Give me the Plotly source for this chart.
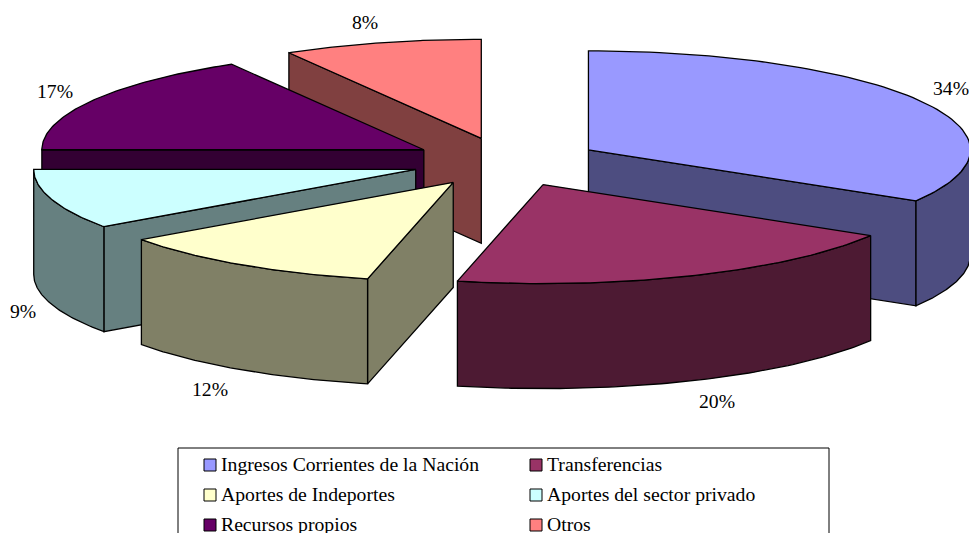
import numpy as np
import plotly.graph_objects as go

categories = ["Ingresos Corrientes de la Nación", "Transferencias", "Aportes de Indeportes",
              "Aportes del sector privado", "Recursos propios", "Otros"]
shares = [33.6, 20.0, 11.6, 9.8, 16.6, 8.4]
pct_labels = ["34%", "20%", "12%", "9%", "17%", "8%"]
colors = ["#9999FF", "#993366", "#FFFFCC", "#CCFFFF", "#660066", "#FF8080"]
dark_colors = ["#4D4D80", "#4D1A33", "#808066", "#668080", "#330033", "#804040"]

W, H = 969, 533
cx, cy = 506, 162
rx, ry = 382, 99
depth = 105
explode = 0.248
font = "Liberation Serif"
font_size = 19.7

label_x = [951, 717, 210, 23, 55, 365]
label_y = [90, 403, 391, 313, 93, 24]

fig = go.Figure()


def add_poly(xs, ys, color):
    fig.add_trace(go.Scatter(x=xs, y=ys, mode="lines", fill="toself", fillcolor=color,
                             line=dict(color="black", width=1.3), hoverinfo="skip", showlegend=False))


def arc(ax, ay, a0, a1):
    t = np.radians(np.linspace(a0, a1, 80))
    return ax + rx * np.sin(t), ay - ry * np.cos(t)


def add_cut_face(ax, ay, angle, color):
    x1, y1 = arc(ax, ay, angle, angle)
    add_poly([ax, x1[0], x1[0], ax, ax], [ay, y1[0], y1[0] + depth, ay + depth, ay], color)


edges = np.cumsum([0] + shares) / sum(shares) * 360

# back to front
for i in [5, 4, 3, 2, 0, 1]:
    a0, a1 = edges[i], edges[i + 1]
    mid = np.radians((a0 + a1) / 2)
    ax = cx + explode * rx * np.sin(mid)
    ay = cy - explode * ry * np.cos(mid)

    # cut faces, only the ones turned to the viewer
    if 180 < a0 < 360:
        add_cut_face(ax, ay, a0, dark_colors[i])
    if 0 < a1 < 180:
        add_cut_face(ax, ay, a1, dark_colors[i])

    # rim
    lo, hi = max(a0, 90), min(a1, 270)
    if lo < hi:
        xr, yr = arc(ax, ay, lo, hi)
        add_poly(np.r_[xr, xr[::-1], xr[0]], np.r_[yr, yr[::-1] + depth, yr[0]], dark_colors[i])

    # top
    xt, yt = arc(ax, ay, a0, a1)
    add_poly(np.r_[ax, xt, ax], np.r_[ay, yt, ay], colors[i])

fig.add_trace(go.Scatter(x=label_x, y=label_y, mode="text", text=pct_labels, textposition="middle center",
                         textfont=dict(family=font, size=font_size, color="black"), hoverinfo="skip",
                         showlegend=False, cliponaxis=False))

# legend box runs off the bottom of the page like in the original
fig.add_shape(type="rect", x0=178, x1=829, y0=448, y1=560, line=dict(color="black", width=1), fillcolor="white",
              layer="below")
leg_x = [210, 536, 210, 536, 210, 536]
leg_y = [465, 465, 495, 495, 525, 525]
for i in range(6):
    fig.add_trace(go.Scatter(x=[leg_x[i]], y=[leg_y[i]], mode="markers",
                             marker=dict(symbol="square", size=12, color=colors[i], line=dict(color="black", width=1)),
                             hoverinfo="skip", showlegend=False))
    fig.add_trace(go.Scatter(x=[leg_x[i] + 11], y=[leg_y[i] + 1], mode="text", text=[categories[i]],
                             textposition="middle right",
                             textfont=dict(family=font, size=font_size, color="black"),
                             hoverinfo="skip", showlegend=False))

fig.update_xaxes(range=[0, W], visible=False)
fig.update_yaxes(range=[H, 0], visible=False)
fig.update_layout(width=W, height=H, margin=dict(l=0, r=0, t=0, b=0), paper_bgcolor="white", plot_bgcolor="white")

# page margin would push the figure off the window
fig.write_html("out.html", config=dict(displayModeBar=False),
               post_script="document.body.style.margin='0';document.body.style.overflow='hidden';")
